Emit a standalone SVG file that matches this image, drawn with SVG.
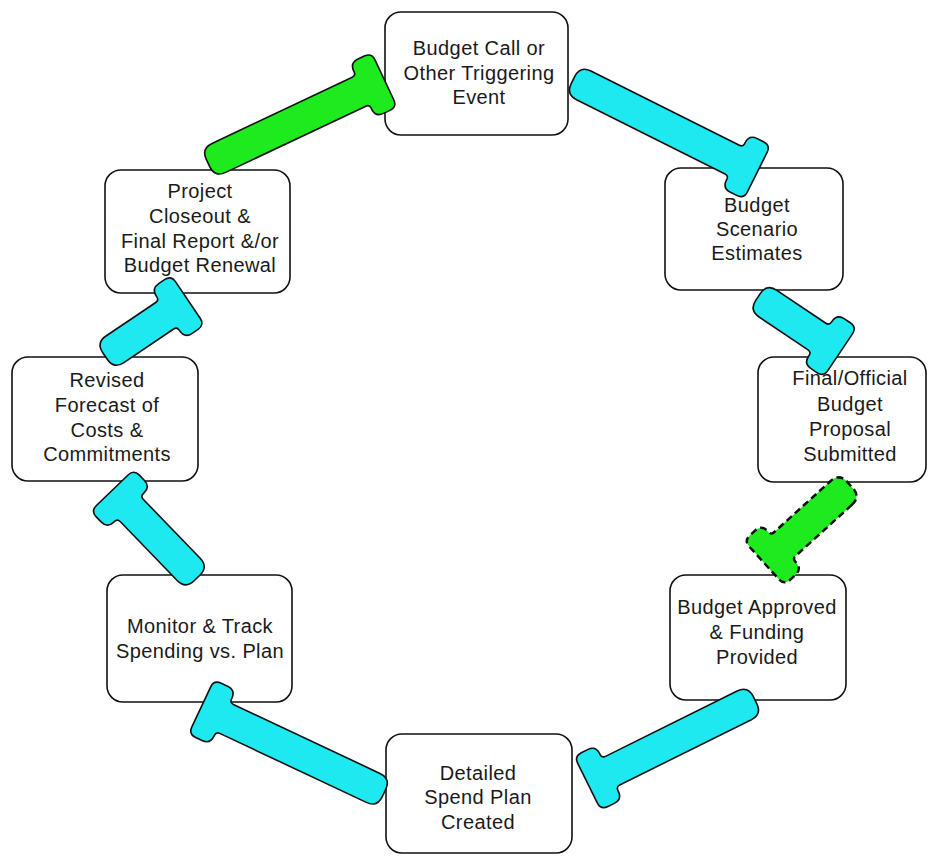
<svg xmlns="http://www.w3.org/2000/svg" width="935" height="856" viewBox="0 0 935 856">
<style>
.box{fill:#fff;stroke:#111;stroke-width:1.6}
.t{font-family:"Liberation Sans",Arial,sans-serif;font-size:20px;letter-spacing:0.4px;fill:#1a1a1a;text-anchor:middle}
.cy{fill:#1EE8F0;stroke:#111;stroke-width:1.6;stroke-linejoin:round}
.gr{fill:#1EEB1E;stroke:#111;stroke-width:1.6;stroke-linejoin:round}
.grd{fill:#1EEB1E;stroke:#111;stroke-width:2.5;stroke-dasharray:7 4;stroke-linejoin:round}
</style>
<rect width="935" height="856" fill="#fff"/>
<g id="n1"><rect class="box" x="385" y="12" width="183" height="123" rx="16"/>
<text class="t" x="479" y="55">Budget Call or</text><text class="t" x="479" y="80">Other Triggering</text><text class="t" x="479" y="104">Event</text></g>
<g id="n2"><rect class="box" x="665" y="168" width="178" height="122" rx="16"/>
<text class="t" x="757" y="212">Budget</text><text class="t" x="757" y="236">Scenario</text><text class="t" x="757" y="260">Estimates</text></g>
<g id="n3"><rect class="box" x="758" y="357" width="168" height="125" rx="16"/>
<text class="t" x="850" y="385">Final/Official</text><text class="t" x="850" y="411">Budget</text><text class="t" x="850" y="436">Proposal</text><text class="t" x="850" y="461">Submitted</text></g>
<g id="n4"><rect class="box" x="670" y="575" width="176" height="125" rx="16"/>
<text class="t" x="757" y="614">Budget Approved</text><text class="t" x="757" y="639">&amp; Funding</text><text class="t" x="757" y="664">Provided</text></g>
<g id="n5"><rect class="box" x="386" y="734" width="186" height="119" rx="16"/>
<text class="t" x="478" y="780">Detailed</text><text class="t" x="478" y="804">Spend Plan</text><text class="t" x="478" y="829">Created</text></g>
<g id="n6"><rect class="box" x="107" y="575" width="185" height="127" rx="16"/>
<text class="t" x="200" y="633">Monitor &amp; Track</text><text class="t" x="200" y="658">Spending vs. Plan</text></g>
<g id="n7"><rect class="box" x="12" y="357" width="186" height="124" rx="16"/>
<text class="t" x="107" y="387">Revised</text><text class="t" x="107" y="412">Forecast of</text><text class="t" x="107" y="437">Costs &amp;</text><text class="t" x="107" y="461">Commitments</text></g>
<g id="n8"><rect class="box" x="105" y="170" width="185" height="123" rx="16"/>
<text class="t" x="200" y="198">Project</text><text class="t" x="200" y="223">Closeout &amp;</text><text class="t" x="200" y="248">Final Report &amp;/or</text><text class="t" x="200" y="272">Budget Renewal</text></g>
<g id="connectors">
<path class="gr" transform="translate(208,163) rotate(-25.25)" d="M12 -16 L167 -16 Q171 -16 171 -20 L171 -21 Q171 -30 180 -30 L187 -30 Q195 -30 195 -22 L195 22 Q195 30 187 30 L180 30 Q171 30 171 21 L171 20 Q171 16 167 16 L12 16 Q0 16 0 4 L0 -4 Q0 -16 12 -16 Z"/>
<path class="cy" transform="translate(573,80) rotate(26.57)" d="M12 -16 L178 -16 Q182 -16 182 -20 L182 -21 Q182 -30 191 -30 L198 -30 Q206 -30 206 -22 L206 22 Q206 30 198 30 L191 30 Q182 30 182 21 L182 20 Q182 16 178 16 L12 16 Q0 16 0 4 L0 -4 Q0 -16 12 -16 Z"/>
<path class="cy" transform="translate(758,297) rotate(33.85)" d="M12 -16 L71 -16 Q75 -16 75 -20 L75 -21 Q75 -30 84 -30 L91 -30 Q99 -30 99 -22 L99 22 Q99 30 91 30 L84 30 Q75 30 75 21 L75 20 Q75 16 71 16 L12 16 Q0 16 0 4 L0 -4 Q0 -16 12 -16 Z"/>
<path class="grd" transform="translate(850,485) rotate(137.8)" d="M12 -16 L88 -16 Q92 -16 92 -20 L92 -21 Q92 -30 101 -30 L108 -30 Q116 -30 116 -22 L116 22 Q116 30 108 30 L101 30 Q92 30 92 21 L92 20 Q92 16 88 16 L12 16 Q0 16 0 4 L0 -4 Q0 -16 12 -16 Z"/>
<path class="cy" transform="translate(755,700) rotate(153.6)" d="M12 -16 L159 -16 Q163 -16 163 -20 L163 -21 Q163 -30 172 -30 L179 -30 Q187 -30 187 -22 L187 22 Q187 30 179 30 L172 30 Q163 30 163 21 L163 20 Q163 16 159 16 L12 16 Q0 16 0 4 L0 -4 Q0 -16 12 -16 Z"/>
<path class="cy" transform="translate(384,793) rotate(205.2)" d="M12 -16 L174 -16 Q178 -16 178 -20 L178 -21 Q178 -30 187 -30 L194 -30 Q202 -30 202 -22 L202 22 Q202 30 194 30 L187 30 Q178 30 178 21 L178 20 Q178 16 174 16 L12 16 Q0 16 0 4 L0 -4 Q0 -16 12 -16 Z"/>
<path class="cy" transform="translate(197,578) rotate(-134)" d="M12 -16 L94 -16 Q98 -16 98 -20 L98 -21 Q98 -30 107 -30 L114 -30 Q122 -30 122 -22 L122 22 Q122 30 114 30 L107 30 Q98 30 98 21 L98 20 Q98 16 94 16 L12 16 Q0 16 0 4 L0 -4 Q0 -16 12 -16 Z"/>
<path class="cy" transform="translate(105,356) rotate(-34)" d="M12 -16 L72 -16 Q76 -16 76 -20 L76 -21 Q76 -30 85 -30 L92 -30 Q100 -30 100 -22 L100 22 Q100 30 92 30 L85 30 Q76 30 76 21 L76 20 Q76 16 72 16 L12 16 Q0 16 0 4 L0 -4 Q0 -16 12 -16 Z"/>
</g>
</svg>
